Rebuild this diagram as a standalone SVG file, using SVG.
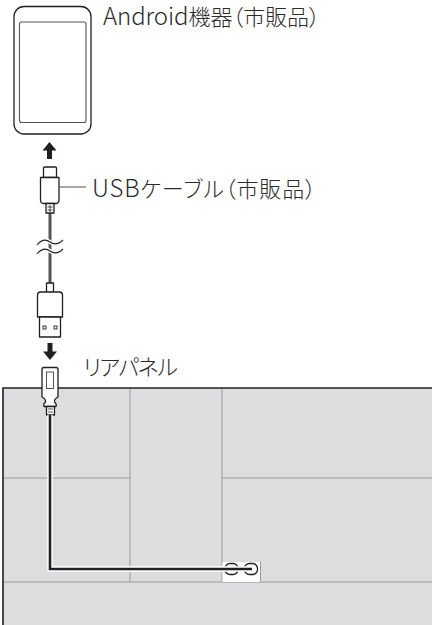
<svg xmlns="http://www.w3.org/2000/svg" width="432" height="625" viewBox="0 0 432 625">
  <style>
    .lbl { font-family: "Noto Sans CJK JP", "Noto Sans", sans-serif; font-size: 22px; font-weight: 300; fill: #2b2b2b; font-feature-settings: "palt"; }
    .lat { font-size: 24px; }
    .ol { fill: #fff; stroke: #231f20; stroke-width: 1.3; stroke-linejoin: round; }
    .grid { stroke: #9a9a9a; stroke-width: 1; fill: none; }
    .arr { fill: #231f20; }
  </style>
  <defs>
    <!-- down-pointing block arrow, tip at origin -->
    <path id="arrowDown" d="M-2.5,-17 H2.5 V-8.5 H7 L0,0 L-7,-8.5 H-2.5 Z"/>
  </defs>

  <rect width="432" height="625" fill="#fff"/>

  <!-- rear panel -->
  <g id="rear-panel">
    <rect x="3" y="388" width="440" height="250" fill="#dcdddf"/>
    <line class="grid" x1="130" y1="388" x2="130" y2="582"/>
    <line class="grid" x1="222" y1="388" x2="222" y2="582"/>
    <line class="grid" x1="3" y1="478" x2="130" y2="478"/>
    <line class="grid" x1="222" y1="478" x2="432" y2="478"/>
    <line class="grid" x1="3" y1="582" x2="432" y2="582"/>
    <path d="M3,625 V388 H432" fill="none" stroke="#231f20" stroke-width="1.6"/>
    <!-- USB port -->
    <rect x="222.5" y="562" width="37.5" height="20" fill="#fff"/>
    <line class="grid" x1="260.5" y1="562" x2="260.5" y2="582"/>
    <rect x="225" y="563.5" width="13" height="11" rx="5" class="ol" stroke-width="1.4"/>
    <rect x="244.5" y="563.5" width="13" height="11" rx="5" class="ol" stroke-width="1.4"/>
    <text class="lbl" x="83" y="375" textLength="95" lengthAdjust="spacing">リアパネル</text>
  </g>

  <!-- Android device -->
  <g id="android-device">
    <rect x="14" y="6.5" width="77" height="127.5" rx="10" class="ol" stroke-width="1.4"/>
    <rect x="19.5" y="22" width="66.5" height="100.5" rx="2" fill="#fff" stroke="#555" stroke-width="1.1"/>
    <text class="lbl" x="103" y="25" textLength="217" lengthAdjust="spacing"><tspan class="lat">Android</tspan>機器（市販品）</text>
  </g>

  <!-- USB cable -->
  <g id="usb-cable">
    <!-- cable between plugs -->
    <line x1="50" y1="212" x2="50" y2="285" stroke="#555" stroke-width="3"/>
    <!-- break marks -->
    <path d="M37,245 C42,239 46,239 50,242 C54,245 58,245 63,240" fill="none" stroke="#fff" stroke-width="4"/>
    <path d="M37,254 C42,248 46,248 50,251 C54,254 58,254 63,249" fill="none" stroke="#fff" stroke-width="4"/>
    <path d="M37,245 C42,239 46,239 50,242 C54,245 58,245 63,240" fill="none" stroke="#231f20" stroke-width="1.1"/>
    <path d="M37,254 C42,248 46,248 50,251 C54,254 58,254 63,249" fill="none" stroke="#231f20" stroke-width="1.1"/>

    <!-- USB-C plug (device side) -->
    <rect x="43.5" y="167" width="13" height="10.5" rx="1" class="ol"/>
    <path d="M40.5,177.5 H59 V200 Q59,203.5 55.5,203.5 H44 Q40.5,203.5 40.5,200 Z" class="ol"/>
    <rect x="46" y="203.5" width="8" height="9.5" class="ol" stroke-width="1.1"/>
    <path d="M47.5,207 H52.5 M47.5,210 H52.5 M50,205 V212" stroke="#231f20" stroke-width="0.8"/>

    <!-- USB-A plug (panel side of cable) -->
    <rect x="46.5" y="283" width="7" height="9.5" class="ol" stroke-width="1.1"/>
    <path d="M37.5,317 V295 Q37.5,292 40.5,292 H59.5 Q62.5,292 62.5,295 V317 Z" class="ol"/>
    <path d="M39.5,317 H60.5 V337 H39.5 Z" class="ol"/>
    <rect x="43" y="326" width="3" height="3" fill="none" stroke="#231f20" stroke-width="0.9"/>
    <rect x="54" y="326" width="3" height="3" fill="none" stroke="#231f20" stroke-width="0.9"/>
    <text class="lbl" x="92" y="197" textLength="224" lengthAdjust="spacing"><tspan class="lat">USB</tspan>ケーブル（市販品）</text>
  </g>

  <!-- USB plug fitted to the panel -->
  <g id="panel-plug">
    <path d="M44,367.5 H56 Q58,367.5 58,369.5 V397 Q54,399 54.5,402 Q57,404 56,406.5 H44 Q43,404 45.5,402 Q46,399 42,397 V369.5 Q42,367.5 44,367.5 Z" class="ol"/>
    <rect x="46.5" y="372" width="7" height="16.5" fill="#fff" stroke="#555" stroke-width="1"/>
    <rect x="46.5" y="406.5" width="8" height="8.5" class="ol" stroke-width="1.1"/>
    <path d="M48,409 H53 M48,412 H53" stroke="#231f20" stroke-width="0.8"/>
  </g>

  <!-- connectors -->
  <g id="connectors">
    <!-- panel cable from plug to port -->
    <path d="M50,415 V569 H252" fill="none" stroke="#fff" stroke-width="5.5"/>
    <path d="M50,415 V569 H252" fill="none" stroke="#231f20" stroke-width="2.6"/>
    <!-- label leader -->
    <line x1="59" y1="187" x2="86" y2="187" stroke="#555" stroke-width="1"/>
    <!-- plug direction arrows -->
    <use href="#arrowDown" class="arr" transform="translate(49.5,142) rotate(180)"/>
    <use href="#arrowDown" class="arr" transform="translate(50,360)"/>
  </g>
</svg>
